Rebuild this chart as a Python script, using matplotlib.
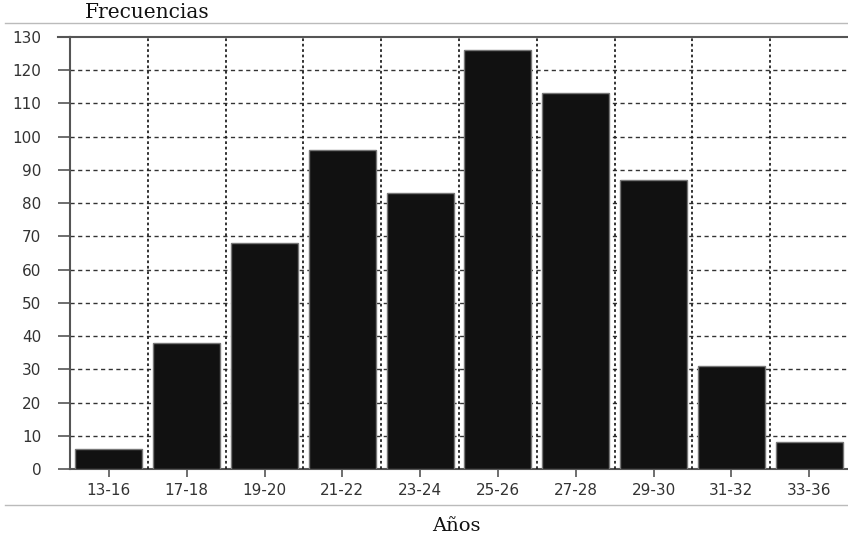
import numpy as np
import matplotlib; matplotlib.use('Agg')
import matplotlib.pyplot as plt
from matplotlib.lines import Line2D

categorias = ['13-16', '17-18', '19-20', '21-22', '23-24', '25-26', '27-28', '29-30', '31-32', '33-36']
frecuencias = [6, 38, 68, 96, 83, 126, 113, 87, 31, 8]
yticks = list(range(0, 131, 10))

plt.rcParams['font.family'] = ['DejaVu Sans']

W, H = 848, 540
fig = plt.figure(figsize=(W / 100, H / 100), dpi=100)
ax = fig.add_axes([70 / W, 71 / H, 778 / W, 432 / H])

x = np.arange(len(categorias))
ax.bar(x, frecuencias, width=0.86, color='#111111', edgecolor='#777777', linewidth=1, zorder=3)

ax.set_xlim(-0.5, len(categorias) - 0.5)
ax.set_ylim(0, 130)
ax.set_yticks(yticks)
ax.set_xticks(x)
ax.set_xticklabels(categorias)

# dashed horizontal grid, dotted separators between categories
for v in yticks[1:-1]:
    ax.axhline(v, color='#333333', linestyle=(0, (3, 2.5)), linewidth=1, zorder=1)
for b in x[:-1] + 0.5:
    ax.axvline(b, color='#222222', linestyle=(0, (1.5, 1.5)), linewidth=1.3, zorder=4)

ax.spines['right'].set_visible(False)
for s in ['left', 'bottom', 'top']:
    ax.spines[s].set_color('#555555'); ax.spines[s].set_linewidth(1.5)

ax.tick_params(axis='y', length=8.6, width=1.2, color='#555555', pad=12, labelsize=11, labelcolor='#333333')
ax.tick_params(axis='x', length=5.8, width=1.2, color='#555555', pad=4, labelsize=11, labelcolor='#333333')

# top line extends over the tick area like the other ticks
fig.add_artist(Line2D([58 / W, 70 / W], [503 / H, 503 / H], color='#555555', linewidth=1.5))

# light separator lines above and below the chart
fig.add_artist(Line2D([5 / W, 1], [1 - 23 / H, 1 - 23 / H], color='#bbbbbb', linewidth=1))
fig.add_artist(Line2D([5 / W, 1], [1 - 505 / H, 1 - 505 / H], color='#bbbbbb', linewidth=1))

fig.text(85 / W, 1 - 13 / H, 'Frecuencias', ha='left', va='center', fontsize=14.5, family='DejaVu Serif', color='#111111')
fig.text(456 / W, 1 - 526 / H, 'Años', ha='center', va='center', fontsize=14, family='DejaVu Serif', color='#111111')

plt.savefig('out.png', dpi=100)
plt.close()
